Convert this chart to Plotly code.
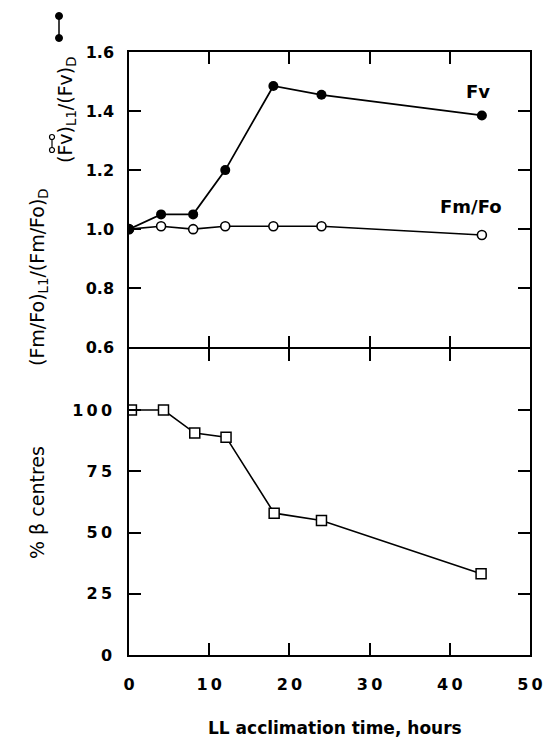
import plotly.graph_objects as go

# ---- data ----
time_top = [0, 4, 8, 12, 18, 24, 44]
fv_ratio = [1.00, 1.05, 1.05, 1.20, 1.485, 1.455, 1.385]
fmfo_ratio = [1.00, 1.01, 1.00, 1.01, 1.01, 1.01, 0.98]

time_bottom = [0.3, 4.3, 8.2, 12.1, 18.1, 24.0, 43.9]
beta_centres = [100, 100, 90.6, 88.9, 57.9, 54.9, 33.2]

S = "\u2009"  # thin space, mimics the wide tracking of the original labels
x_ticks = [0, 10, 20, 30, 40, 50]
x_ticktext = ["0", "1" + S + "0", "2" + S + "0", "3" + S + "0", "4" + S + "0", "5" + S + "0"]
top_yticks = [0.6, 0.8, 1.0, 1.2, 1.4, 1.6]
top_yticktext = ["0.6", "0.8", "1.0", "1.2", "1.4", "1.6"]
bot_yticks = [0, 25, 50, 75, 100]
bot_yticktext = ["0", "2" + S + "5", "5" + S + "0", "7" + S + "5", "1" + S + "0" + S + "0"]

W, H = 543, 737
PLOT_L, PLOT_R, PLOT_T, PLOT_B = 129, 530, 52, 655   # plot frame in pixels
L, T = PLOT_L, PLOT_T
R = W - PLOT_R
B = H - PLOT_B
PW = PLOT_R - PLOT_L
PH = PLOT_B - PLOT_T

def px(x):
    return (x - PLOT_L) / PW

def py(y):
    return (PLOT_B - y) / PH

FONT = "DejaVu Sans"
tickfont = dict(family=FONT, size=16, color="black", weight="bold")

fig = go.Figure()

fig.add_trace(go.Scatter(x=time_top, y=fmfo_ratio, mode="lines+markers",
                         xaxis="x2", yaxis="y2",
                         line=dict(color="black", width=1.6),
                         marker=dict(symbol="circle", size=9, color="white",
                                     line=dict(color="black", width=1.6)),
                         showlegend=False))
fig.add_trace(go.Scatter(x=time_top, y=fv_ratio, mode="lines+markers",
                         xaxis="x2", yaxis="y2",
                         line=dict(color="black", width=1.8),
                         marker=dict(symbol="circle", size=10, color="black"),
                         showlegend=False))
fig.add_trace(go.Scatter(x=time_bottom, y=beta_centres, mode="lines+markers",
                         xaxis="x", yaxis="y",
                         line=dict(color="black", width=1.6),
                         marker=dict(symbol="square", size=10, color="white",
                                     line=dict(color="black", width=1.5)),
                         showlegend=False))

axis_common = dict(showline=True, linecolor="black", linewidth=1.5,
                   ticks="inside", ticklen=12, tickwidth=1.5, tickcolor="black",
                   mirror="ticks", showgrid=False, zeroline=False,
                   automargin=False)

fig.update_layout(
    width=W, height=H,
    margin=dict(l=L, r=R, t=T, b=B),
    paper_bgcolor="white", plot_bgcolor="white",
    xaxis=dict(domain=[0, 1], range=[0, 50], tickvals=x_ticks,
               ticktext=x_ticktext, tickfont=tickfont, anchor="y",
               ticklabelstandoff=14, **axis_common),
    yaxis=dict(domain=[0, py(348.75)], range=[0, 125], tickvals=bot_yticks,
               ticktext=bot_yticktext, tickfont=tickfont, anchor="x",
               ticklabelstandoff=12, **axis_common),
    xaxis2=dict(domain=[0, 1], range=[0, 50], tickvals=x_ticks,
                showticklabels=False, anchor="y2", **axis_common),
    yaxis2=dict(domain=[py(347.25), 1], range=[0.6, 1.6], tickvals=top_yticks,
                ticktext=top_yticktext, tickfont=tickfont, anchor="x2",
                ticklabelstandoff=10, **axis_common),
)

lab = dict(family=FONT, size=18, color="black", weight="bold")
ann = []
ann.append(dict(text="Fv", x=43.5, y=1.467, xref="x2", yref="y2", showarrow=False,
                xanchor="center", yanchor="middle", font=lab))
ann.append(dict(text="Fm/Fo", x=42.7, y=1.077, xref="x2", yref="y2", showarrow=False,
                xanchor="center", yanchor="middle", font=lab))
ann.append(dict(text="LL acclimation time, hours", x=px(335), y=py(728),
                xref="paper", yref="paper", showarrow=False,
                xanchor="center", yanchor="middle",
                font=dict(family=FONT, size=17, color="black", weight="bold")))
ann.append(dict(text="% \u03b2 centres", x=px(37), y=py(503), textangle=-90,
                xref="paper", yref="paper", showarrow=False,
                xanchor="center", yanchor="middle",
                font=dict(family=FONT, size=19, color="black")))
ann.append(dict(text="(Fm/Fo)<sub>L1</sub>/(Fm/Fo)<sub>D</sub>", x=px(38), y=py(277),
                textangle=-90, xref="paper", yref="paper", showarrow=False,
                xanchor="center", yanchor="middle",
                font=dict(family=FONT, size=19, color="black")))
ann.append(dict(text="(Fv)<sub>L1</sub>/(Fv)<sub>D</sub>", x=px(66), y=py(110),
                textangle=-90, xref="paper", yref="paper", showarrow=False,
                xanchor="center", yanchor="middle",
                font=dict(family=FONT, size=19, color="black")))
fig.update_layout(annotations=ann)

shapes = []
# filled-circle key
shapes.append(dict(type="line", xref="paper", yref="paper",
                   x0=px(59), x1=px(59), y0=py(16), y1=py(38),
                   line=dict(color="black", width=1.5)))
for yy in (16, 38):
    shapes.append(dict(type="circle", xref="paper", yref="paper",
                       xsizemode="pixel", ysizemode="pixel",
                       xanchor=px(59), yanchor=py(yy),
                       x0=-3.5, x1=3.5, y0=-3.5, y1=3.5,
                       fillcolor="black", line=dict(color="black", width=1)))
# open-circle key
shapes.append(dict(type="line", xref="paper", yref="paper",
                   x0=px(52), x1=px(52), y0=py(137), y1=py(150),
                   line=dict(color="black", width=1.2)))
for yy in (137, 150):
    shapes.append(dict(type="circle", xref="paper", yref="paper",
                       xsizemode="pixel", ysizemode="pixel",
                       xanchor=px(52), yanchor=py(yy),
                       x0=-2.5, x1=2.5, y0=-2.5, y1=2.5,
                       fillcolor="white", line=dict(color="black", width=1.2)))
fig.update_layout(shapes=shapes)

fig.write_html("out.html",
               config={"displayModeBar": False},
               post_script="document.body.style.margin='0';"
                           "document.body.style.overflow='hidden';")
